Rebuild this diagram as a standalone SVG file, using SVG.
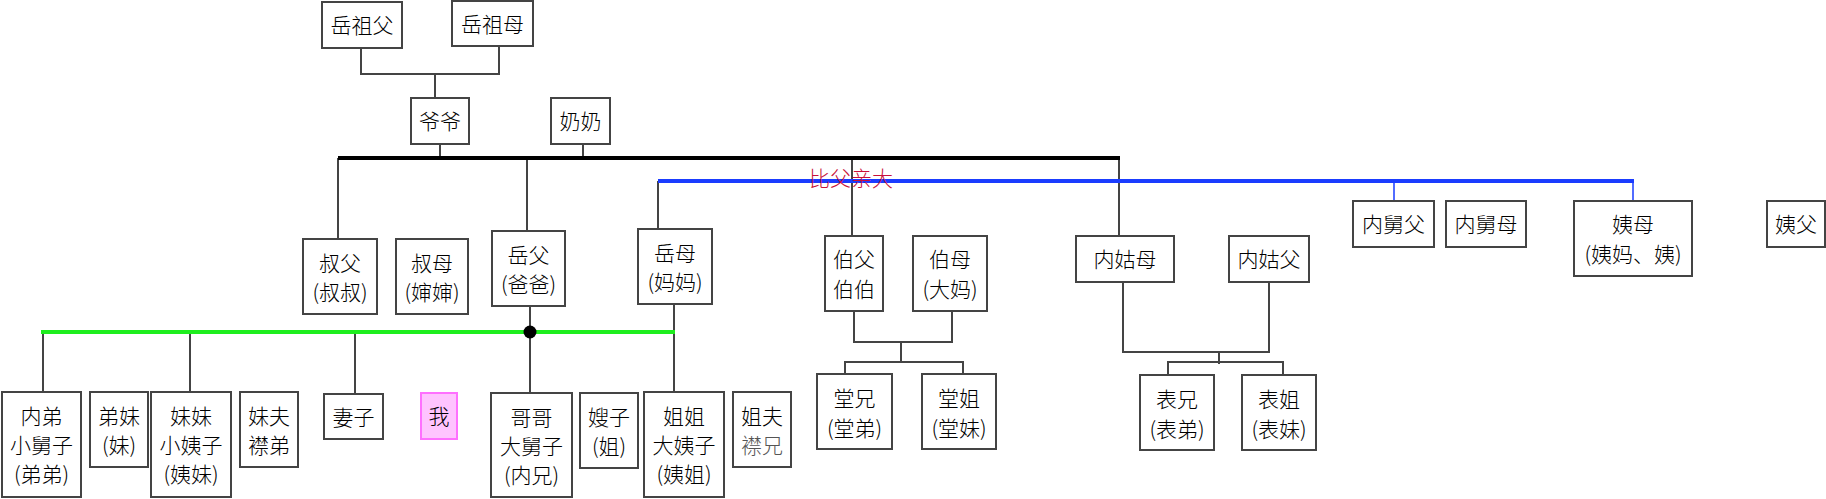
<svg xmlns="http://www.w3.org/2000/svg" width="1826" height="499" viewBox="0 0 1826 499">
<style>
.box{fill:#fff;stroke:#444;stroke-width:2}
.me{fill:#ffc4ff;stroke:#ff70ff;stroke-width:2}
text{font-family:"Noto Sans CJK SC","Noto Sans",sans-serif;font-size:21px;font-weight:300;fill:#000;text-anchor:middle}
.gray{fill:#555}
.note{fill:#c8103a}
.ln{stroke:#444;stroke-width:2;fill:none}
.bk{stroke:#000;stroke-width:4;fill:none}
.bl{stroke:#1a3cff;stroke-width:4;fill:none}
.gr{stroke:#1eee1e;stroke-width:4;fill:none}
.tb{stroke:#1a3cff;stroke-width:1.5;fill:none}
</style>
<rect width="1826" height="499" fill="#fff"/>
<g id="connectors">
<path class="ln" d="M361,48 V74 H499 V46 M435,74 V98 M440,144 V158 M583,144 V158"/>
<path class="ln" d="M338,158 V239 M527,158 V231 M852,158 V236 M1119,158 V236"/>
<path class="bk" d="M338,158 H1120"/>
<path class="ln" d="M658,181 V229"/>
<path class="tb" d="M1394,181 V201 M1633,181 V201"/>
<path class="bl" d="M658,181 H1634"/>
<path class="ln" d="M43,332 V392 M190,332 V392 M355,332 V394 M530,306 V393 M674,304 V392"/>
<path class="gr" d="M41,332 H675"/>
<circle cx="530" cy="332" r="6.5" fill="#000"/>
<path class="ln" d="M854,311 V342 H952 V311 M901,342 V363 M845,374 V362 H963 V374"/>
<path class="ln" d="M1123,282 V352 H1269 V282 M1219,351 V364 M1168,375 V362 H1283 V375"/>
<text class="note" x="851" y="186">比父亲大</text>
</g>
<g id="n-yuezufu"><rect class="box" x="322" y="2" width="80" height="46"/><text x="362" y="33">岳祖父</text></g>
<g id="n-yuezumu"><rect class="box" x="452" y="1" width="81" height="45"/><text x="492.5" y="32">岳祖母</text></g>
<g id="n-yeye"><rect class="box" x="411" y="98" width="58" height="46"/><text x="440" y="129">爷爷</text></g>
<g id="n-nainai"><rect class="box" x="551" y="98" width="59" height="46"/><text x="580.5" y="129">奶奶</text></g>
<g id="n-shufu"><rect class="box" x="303" y="239" width="74" height="75"/><text x="340" y="271">叔父</text><text x="340" y="300">(叔叔)</text></g>
<g id="n-shumu"><rect class="box" x="396" y="239" width="72" height="75"/><text x="432" y="271">叔母</text><text x="432" y="300">(婶婶)</text></g>
<g id="n-yuefu"><rect class="box" x="492" y="231" width="73" height="75"/><text x="528.5" y="263">岳父</text><text x="528.5" y="292">(爸爸)</text></g>
<g id="n-yuemu"><rect class="box" x="638" y="229" width="74" height="75"/><text x="675" y="261">岳母</text><text x="675" y="290">(妈妈)</text></g>
<g id="n-bofu"><rect class="box" x="825" y="236" width="58" height="75"/><text x="854" y="267">伯父</text><text x="854" y="297">伯伯</text></g>
<g id="n-bomu"><rect class="box" x="913" y="236" width="74" height="75"/><text x="950" y="267">伯母</text><text x="950" y="297">(大妈)</text></g>
<g id="n-neigumu"><rect class="box" x="1076" y="236" width="98" height="46"/><text x="1125" y="267">内姑母</text></g>
<g id="n-neigufu"><rect class="box" x="1229" y="236" width="80" height="46"/><text x="1269" y="267">内姑父</text></g>
<g id="n-neijiufu"><rect class="box" x="1353" y="201" width="81" height="46"/><text x="1393.5" y="232">内舅父</text></g>
<g id="n-neijiumu"><rect class="box" x="1446" y="201" width="80" height="46"/><text x="1486" y="232">内舅母</text></g>
<g id="n-yimu"><rect class="box" x="1574" y="201" width="118" height="75"/><text x="1633" y="232">姨母</text><text x="1633" y="262">(姨妈、姨)</text></g>
<g id="n-yifu"><rect class="box" x="1767" y="201" width="58" height="46"/><text x="1796" y="232">姨父</text></g>
<g id="n-neidi"><rect class="box" x="2" y="392" width="79" height="105"/><text x="41.5" y="424">内弟</text><text x="41.5" y="453">小舅子</text><text x="41.5" y="482">(弟弟)</text></g>
<g id="n-dimei"><rect class="box" x="90" y="392" width="58" height="75"/><text x="119" y="424">弟妹</text><text x="119" y="453">(妹)</text></g>
<g id="n-meimei"><rect class="box" x="151" y="392" width="80" height="105"/><text x="191" y="424">妹妹</text><text x="191" y="453">小姨子</text><text x="191" y="482">(姨妹)</text></g>
<g id="n-meifu"><rect class="box" x="240" y="392" width="58" height="75"/><text x="269" y="424">妹夫</text><text x="269" y="453">襟弟</text></g>
<g id="n-qizi"><rect class="box" x="324" y="394" width="59" height="45"/><text x="353.5" y="425">妻子</text></g>
<g id="n-wo"><rect class="me" x="421" y="393" width="36" height="46"/><text x="439" y="424">我</text></g>
<g id="n-gege"><rect class="box" x="491" y="393" width="81" height="104"/><text x="531.5" y="425">哥哥</text><text x="531.5" y="454">大舅子</text><text x="531.5" y="483">(内兄)</text></g>
<g id="n-saozi"><rect class="box" x="580" y="393" width="58" height="75"/><text x="609" y="425">嫂子</text><text x="609" y="454">(姐)</text></g>
<g id="n-jiejie"><rect class="box" x="644" y="392" width="80" height="105"/><text x="684" y="424">姐姐</text><text x="684" y="453">大姨子</text><text x="684" y="482">(姨姐)</text></g>
<g id="n-jiefu"><rect class="box" x="733" y="392" width="58" height="75"/><text x="762" y="424">姐夫</text><text class="gray" x="762" y="453">襟兄</text></g>
<g id="n-tangxiong"><rect class="box" x="817" y="374" width="75" height="75"/><text x="854.5" y="406">堂兄</text><text x="854.5" y="436">(堂弟)</text></g>
<g id="n-tangjie"><rect class="box" x="922" y="374" width="74" height="75"/><text x="959" y="406">堂姐</text><text x="959" y="436">(堂妹)</text></g>
<g id="n-biaoxiong"><rect class="box" x="1140" y="375" width="74" height="75"/><text x="1177" y="407">表兄</text><text x="1177" y="437">(表弟)</text></g>
<g id="n-biaojie"><rect class="box" x="1242" y="375" width="74" height="75"/><text x="1279" y="407">表姐</text><text x="1279" y="437">(表妹)</text></g>
</svg>
